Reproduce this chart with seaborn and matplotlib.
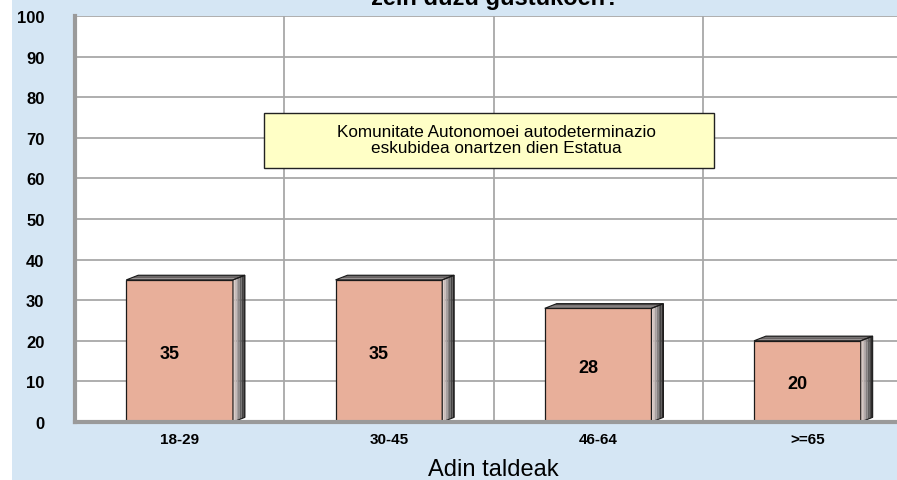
import numpy as np
import matplotlib
matplotlib.use('Agg')
import matplotlib.pyplot as plt
import seaborn as sns
from matplotlib.patches import Polygon, Rectangle

# data
categories = ['18-29', '30-45', '46-64', '>=65']
values = [35, 35, 28, 20]
legend_text = 'Komunitate Autonomoei autodeterminazio\neskubidea onartzen dien Estatua'
title_text = 'zein duzu gustukoen?'
x_label = 'Adin taldeak'

sns.set_style('white')
plt.rcParams['font.family'] = ['Liberation Sans', 'DejaVu Sans']
plt.rcParams['text.color'] = 'black'
plt.rcParams['xtick.color'] = 'black'
plt.rcParams['ytick.color'] = 'black'
plt.rcParams['axes.labelcolor'] = 'black'

fig = plt.figure(figsize=(8.97, 4.81), dpi=100, facecolor='white')
W, H = 897, 481

# light blue frame behind the chart
fig.patches.append(Rectangle((12 / W, 0), 1, 1, transform=fig.transFigure,
                             facecolor='#D5E6F4', edgecolor='none', zorder=-5))

ax = fig.add_axes([75 / W, (H - 423) / H, (912 - 75) / W, (423 - 17) / H])
ax.set_zorder(1)
ax.set_facecolor('white')

sns.barplot(x=categories, y=values, color='#E8AF9A', saturation=1, width=0.51,
            edgecolor='#1a1a1a', linewidth=0.9, ax=ax, zorder=3)

ax.set_xlim(-0.5, 3.5)
ax.set_ylim(0, 100)
ax.set_yticks(range(0, 101, 10))

# fake 3D depth: side and top faces
dx, dy = 0.057, 1.15
side_cols = ['#e4d2cc', '#c9bcb8', '#a8a0a0', '#858080', '#626060', '#454343', '#2e2c2c']
top_cols = ['#8a8484', '#6a6464', '#4e4a4a']
for p in list(ax.patches):
    x0 = p.get_x()
    x1 = x0 + p.get_width()
    h = p.get_height()
    n = len(side_cols)
    for i, c in enumerate(side_cols):
        a = x1 + dx * i / n
        b = x1 + dx * (i + 1) / n
        ya = dy * i / n
        yb = dy * (i + 1) / n
        ax.add_patch(Polygon([(a, ya), (b, yb), (b, h + yb), (a, h + ya)],
                             closed=True, facecolor=c, edgecolor='none', zorder=3))
    m = len(top_cols)
    for i, c in enumerate(top_cols):
        ya = h + dy * i / m
        yb = h + dy * (i + 1) / m
        ax.add_patch(Polygon([(x0 + dx * i / m, ya), (x0 + dx * (i + 1) / m, yb),
                              (x1 + dx * (i + 1) / m, yb), (x1 + dx * i / m, ya)],
                             closed=True, facecolor=c, edgecolor='none', zorder=3))
    ax.add_patch(Polygon([(x1, 0), (x1 + dx, dy), (x1 + dx, h + dy), (x1, h)],
                         closed=True, facecolor='none', edgecolor='#1a1a1a', lw=0.8, zorder=4))
    ax.add_patch(Polygon([(x0, h), (x0 + dx, h + dy), (x1 + dx, h + dy), (x1, h)],
                         closed=True, facecolor='none', edgecolor='#1a1a1a', lw=0.8, zorder=4))
    ax.text(x0 + p.get_width() / 2 - 0.047, h / 2 - 0.6, f'{h:.0f}', ha='center', va='center',
            fontsize=13, fontweight='bold', color='black', zorder=5)

# grid
ax.set_xticks([0.5, 1.5, 2.5, 3.5], minor=True)
ax.grid(axis='y', which='major', color='#A8A8A8', lw=1.3, zorder=0)
ax.grid(axis='x', which='minor', color='#A8A8A8', lw=1.3, zorder=0)
ax.grid(axis='x', which='major', visible=False)
ax.set_axisbelow(True)

for s in ['top', 'right']:
    ax.spines[s].set_visible(False)
for s in ['left', 'bottom']:
    ax.spines[s].set_color('#9A9A9A')
    ax.spines[s].set_linewidth(3)
    ax.spines[s].set_zorder(6)

ax.tick_params(axis='both', which='both', length=0)
ax.tick_params(axis='y', pad=22)
ax.tick_params(axis='x', pad=7)
for lab in ax.get_yticklabels():
    lab.set_fontsize(12)
    lab.set_fontweight('bold')
for lab in ax.get_xticklabels():
    lab.set_fontsize(11)
    lab.set_fontweight('bold')

ax.set_xlabel(x_label, fontsize=17, labelpad=9)
ax.set_ylabel('')

# legend box
fig.text(496 / W, 1 - 140.5 / H, legend_text, ha='center', va='center', fontsize=12.3,
         linespacing=1.15, zorder=10)
fig.patches.append(Rectangle((264 / W, 1 - 169 / H), (714 - 264) / W, (169 - 114) / H,
                             transform=fig.transFigure, facecolor='#FFFFC6',
                             edgecolor='#222222', lw=1, zorder=9))

# title (cut off at top as in source)
fig.text(495 / W, 1 - 5 / H, title_text, ha='center', va='baseline',
         fontsize=17, fontweight='bold')

fig.savefig('out.png', dpi=100, facecolor=fig.get_facecolor())
